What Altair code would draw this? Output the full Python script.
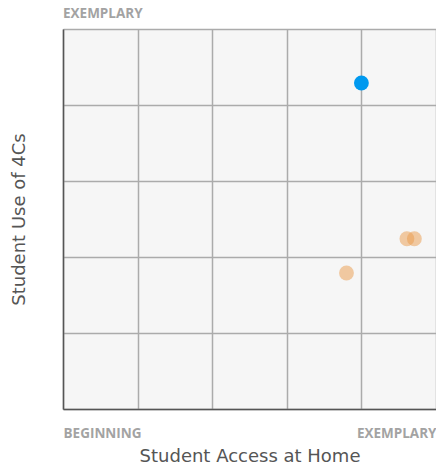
import altair as alt
import pandas as pd

access = [4.0, 3.8, 4.61, 4.71]
use4c = [4.29, 1.79, 2.24, 2.24]
group = ["self", "other", "other", "other"]

df = pd.DataFrame({"access": access, "use": use4c, "group": group})

LABEL_FONT = "Open Sans"
TITLE_FONT = "DejaVu Sans"
LABEL_GRAY = "#a3a3a3"

x = alt.X(
    "access:Q",
    scale=alt.Scale(domain=[0, 5], nice=False, zero=False),
    axis=alt.Axis(
        values=[0, 1, 2, 3, 4, 5],
        labelExpr="datum.value == 0 ? 'BEGINNING' : (datum.value == 5 ? 'EXEMPLARY' : '')",
        labelFlush=True,
        labelFont=LABEL_FONT,
        labelFontSize=13.5,
        labelFontWeight="bold",
        labelColor=LABEL_GRAY,
        labelBaseline="alphabetic",
        labelPadding=28,
        ticks=False,
        tickSize=0,
        grid=True,
        gridColor="#ababab",
        gridWidth=1.5,
        domainColor="#555555",
        domainWidth=1.5,
        title="Student Access at Home",
        titleFont=TITLE_FONT,
        titleFontSize=18,
        titleFontWeight="normal",
        titleColor="#555555",
        titlePadding=8,
    ),
)
y = alt.Y(
    "use:Q",
    scale=alt.Scale(domain=[0, 5], nice=False, zero=False),
    axis=alt.Axis(
        values=[0, 1, 2, 3, 4, 5],
        labels=False,
        ticks=False,
        tickSize=0,
        grid=True,
        gridColor="#ababab",
        gridWidth=1.5,
        domainColor="#555555",
        domainWidth=1.5,
        title="Student Use of 4Cs",
        titleFont=TITLE_FONT,
        titleFontSize=18,
        titleFontWeight="normal",
        titleColor="#555555",
        titlePadding=35,
    ),
)

chart = (
    alt.Chart(df)
    .mark_circle(size=220)
    .encode(
        x=x,
        y=y,
        color=alt.Color(
            "group:N",
            scale=alt.Scale(domain=["self", "other"], range=["#0099ef", "#ea9a4a"]),
            legend=None,
        ),
        opacity=alt.Opacity(
            "group:N",
            scale=alt.Scale(domain=["self", "other"], range=[1.0, 0.5]),
            legend=None,
        ),
    )
    .properties(
        width=373,
        height=380,
        title=alt.TitleParams(
            "EXEMPLARY",
            anchor="start",
            frame="group",
            font=LABEL_FONT,
            fontSize=13.5,
            fontWeight="bold",
            color=LABEL_GRAY,
            offset=9,
        ),
        autosize=alt.AutoSizeParams(type="none"),
        padding={"left": 55, "top": 21, "right": 0, "bottom": 54},
    )
    .configure_view(fill="#f6f6f6", stroke=None)
)

chart.save("out.html", embed_options={"renderer": "svg", "actions": False})
